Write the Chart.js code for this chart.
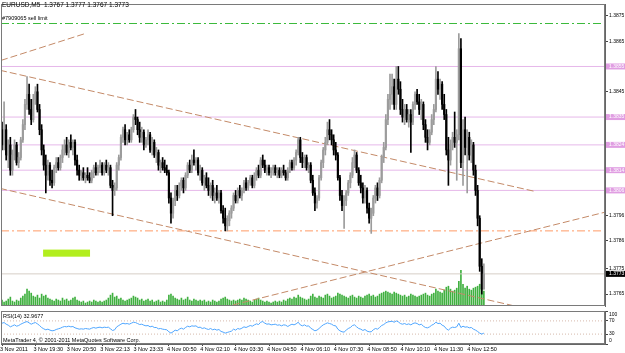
<!DOCTYPE html>
<html>
<head>
<meta charset="utf-8">
<script src="https://cdn.jsdelivr.net/npm/chart.js@4.4.0/dist/chart.umd.min.js"></script>
<style>
html, body { margin: 0; padding: 0; background: #fff; }
#wrap { position: relative; width: 625px; height: 353px; overflow: hidden; background: #fff; }
#mainChart { position: absolute; left: 0; top: 0; }
#rsiChart { position: absolute; left: 0; top: 310px; }
</style>
</head>
<body>
<div id="wrap">
  <canvas id="mainChart" width="625" height="310"></canvas>
  <canvas id="rsiChart" width="625" height="43"></canvas>
</div>
<script>
// EURUSD M5, una vela por barra (232 barras)
const opens = [
1.3830,1.3824,1.3830,1.3820,1.3824,1.3814,1.3820,1.3824,1.3817,1.3819,1.3826,1.3832,1.3840,1.3844,1.3838,1.3834,
1.3842,1.3845,1.3838,1.3830,1.3822,1.3816,1.3812,1.3816,1.3810,1.3809,1.3815,1.3817,1.3815,1.3819,1.3822,1.3824,
1.3821,1.3825,1.3823,1.3825,1.3818,1.3814,1.3812,1.3813,1.3811,1.3812,1.3811,1.3810,1.3813,1.3815,1.3813,1.3815,
1.3816,1.3813,1.3816,1.3814,1.3815,1.3808,1.3806,1.3807,1.3816,1.3819,1.3827,1.3830,1.3826,1.3828,1.3826,1.3830,
1.3835,1.3834,1.3830,1.3827,1.3829,1.3824,1.3826,1.3828,1.3822,1.3825,1.3820,1.3821,1.3816,1.3817,1.3815,1.3814,
1.3813,1.3803,1.3797,1.3802,1.3806,1.3804,1.3808,1.3810,1.3807,1.3812,1.3816,1.3814,1.3818,1.3817,1.3818,1.3813,
1.3814,1.3809,1.3811,1.3808,1.3806,1.3808,1.3804,1.3805,1.3803,1.3805,1.3798,1.3795,1.3792,1.3794,1.3797,1.3799,
1.3804,1.3802,1.3806,1.3804,1.3806,1.3809,1.3807,1.3809,1.3811,1.3808,1.3812,1.3814,1.3812,1.3818,1.3816,1.3814,
1.3815,1.3813,1.3814,1.3815,1.3813,1.3814,1.3812,1.3814,1.3813,1.3811,1.3814,1.3817,1.3815,1.3818,1.3821,1.3826,
1.3819,1.3817,1.3819,1.3815,1.3816,1.3810,1.3805,1.3801,1.3803,1.3811,1.3817,1.3822,1.3825,1.3830,1.3828,1.3826,
1.3822,1.3820,1.3811,1.3804,1.3800,1.3802,1.3805,1.3809,1.3812,1.3817,1.3820,1.3814,1.3809,1.3807,1.3803,1.3806,
1.3799,1.3795,1.3797,1.3803,1.3807,1.3804,1.3810,1.3819,1.3823,1.3834,1.3842,1.3844,1.3847,1.3840,1.3850,1.3846,
1.3838,1.3835,1.3838,1.3834,1.3836,1.3833,1.3840,1.3844,1.3841,1.3838,1.3840,1.3832,1.3827,1.3825,1.3829,1.3834,
1.3838,1.3850,1.3846,1.3848,1.3840,1.3836,1.3822,1.3818,1.3824,1.3827,1.3825,1.3828,1.3862,1.3817,1.3830,1.3823,
1.3827,1.3820,1.3824,1.3814,1.3806,1.3795,1.3776,1.3767
];
const highs = [
1.3833,1.3841,1.3832,1.3826,1.3827,1.3822,1.3826,1.3825,1.3821,1.3827,1.3834,1.3842,1.3851,1.3848,1.3842,1.3844,
1.3847,1.3848,1.3840,1.3832,1.3824,1.3820,1.3818,1.3817,1.3814,1.3816,1.3819,1.3819,1.3820,1.3824,1.3826,1.3827,
1.3826,1.3828,1.3826,1.3826,1.3820,1.3816,1.3814,1.3815,1.3813,1.3815,1.3813,1.3814,1.3816,1.3817,1.3816,1.3818,
1.3817,1.3817,1.3818,1.3817,1.3816,1.3810,1.3809,1.3817,1.3820,1.3828,1.3831,1.3832,1.3829,1.3830,1.3831,1.3836,
1.3838,1.3835,1.3833,1.3831,1.3830,1.3827,1.3830,1.3829,1.3827,1.3826,1.3823,1.3822,1.3818,1.3819,1.3818,1.3816,
1.3814,1.3805,1.3803,1.3808,1.3808,1.3809,1.3811,1.3811,1.3813,1.3817,1.3818,1.3820,1.3822,1.3819,1.3819,1.3816,
1.3815,1.3812,1.3813,1.3811,1.3809,1.3810,1.3807,1.3808,1.3806,1.3806,1.3800,1.3799,1.3796,1.3798,1.3800,1.3805,
1.3806,1.3807,1.3808,1.3807,1.3810,1.3811,1.3810,1.3812,1.3812,1.3813,1.3815,1.3816,1.3819,1.3820,1.3818,1.3816,
1.3816,1.3815,1.3816,1.3816,1.3815,1.3815,1.3815,1.3816,1.3814,1.3815,1.3818,1.3818,1.3819,1.3822,1.3827,1.3827,
1.3821,1.3820,1.3820,1.3817,1.3817,1.3812,1.3807,1.3804,1.3812,1.3818,1.3823,1.3827,1.3833,1.3834,1.3830,1.3828,
1.3825,1.3821,1.3812,1.3806,1.3804,1.3806,1.3810,1.3813,1.3819,1.3822,1.3821,1.3815,1.3812,1.3809,1.3808,1.3807,
1.3801,1.3799,1.3804,1.3808,1.3809,1.3811,1.3820,1.3825,1.3836,1.3844,1.3852,1.3852,1.3850,1.3855,1.3855,1.3849,
1.3842,1.3840,1.3840,1.3838,1.3838,1.3841,1.3845,1.3846,1.3844,1.3842,1.3841,1.3834,1.3830,1.3830,1.3836,1.3840,
1.3855,1.3853,1.3850,1.3849,1.3844,1.3838,1.3827,1.3826,1.3829,1.3837,1.3830,1.3868,1.3866,1.3834,1.3835,1.3830,
1.3829,1.3826,1.3825,1.3816,1.3808,1.3796,1.3779,1.3777
];
const lows = [
1.3822,1.3822,1.3818,1.3815,1.3812,1.3812,1.3818,1.3816,1.3815,1.3818,1.3825,1.3830,1.3838,1.3836,1.3832,1.3833,
1.3840,1.3837,1.3828,1.3820,1.3814,1.3805,1.3810,1.3808,1.3807,1.3808,1.3813,1.3814,1.3814,1.3817,1.3820,1.3820,
1.3819,1.3822,1.3820,1.3816,1.3812,1.3810,1.3810,1.3810,1.3809,1.3810,1.3809,1.3809,1.3811,1.3812,1.3812,1.3813,
1.3812,1.3812,1.3813,1.3812,1.3807,1.3796,1.3804,1.3806,1.3814,1.3818,1.3825,1.3824,1.3824,1.3825,1.3825,1.3829,
1.3832,1.3828,1.3825,1.3825,1.3822,1.3823,1.3824,1.3821,1.3820,1.3819,1.3817,1.3814,1.3813,1.3814,1.3813,1.3812,
1.3801,1.3793,1.3795,1.3800,1.3802,1.3803,1.3806,1.3805,1.3806,1.3811,1.3813,1.3813,1.3816,1.3814,1.3812,1.3810,
1.3808,1.3806,1.3807,1.3804,1.3803,1.3802,1.3801,1.3802,1.3801,1.3797,1.3793,1.3790,1.3790,1.3792,1.3795,1.3798,
1.3801,1.3801,1.3803,1.3802,1.3805,1.3806,1.3806,1.3808,1.3807,1.3807,1.3810,1.3811,1.3811,1.3815,1.3813,1.3812,
1.3812,1.3811,1.3812,1.3812,1.3811,1.3811,1.3811,1.3812,1.3810,1.3810,1.3813,1.3814,1.3814,1.3816,1.3820,1.3817,
1.3815,1.3815,1.3814,1.3813,1.3809,1.3804,1.3798,1.3799,1.3802,1.3810,1.3815,1.3820,1.3824,1.3826,1.3824,1.3820,
1.3818,1.3810,1.3802,1.3798,1.3791,1.3800,1.3804,1.3807,1.3811,1.3815,1.3813,1.3808,1.3805,1.3801,1.3801,1.3797,
1.3793,1.3789,1.3796,1.3801,1.3802,1.3803,1.3809,1.3817,1.3822,1.3832,1.3838,1.3840,1.3838,1.3838,1.3844,1.3836,
1.3833,1.3832,1.3833,1.3831,1.3821,1.3832,1.3838,1.3840,1.3836,1.3834,1.3830,1.3825,1.3822,1.3824,1.3828,1.3832,
1.3837,1.3844,1.3842,1.3838,1.3834,1.3820,1.3808,1.3816,1.3822,1.3823,1.3810,1.3826,1.3815,1.3808,1.3820,1.3805,
1.3818,1.3817,1.3812,1.3804,1.3792,1.3774,1.3765,1.3767
];
const closes = [
1.3824,1.3830,1.3820,1.3824,1.3814,1.3820,1.3824,1.3817,1.3819,1.3826,1.3832,1.3840,1.3844,1.3838,1.3834,1.3842,
1.3845,1.3838,1.3830,1.3822,1.3816,1.3812,1.3816,1.3810,1.3809,1.3815,1.3817,1.3815,1.3819,1.3822,1.3824,1.3821,
1.3825,1.3823,1.3825,1.3818,1.3814,1.3812,1.3813,1.3811,1.3812,1.3811,1.3810,1.3813,1.3815,1.3813,1.3815,1.3816,
1.3813,1.3816,1.3814,1.3815,1.3808,1.3806,1.3807,1.3816,1.3819,1.3827,1.3830,1.3826,1.3828,1.3826,1.3830,1.3835,
1.3834,1.3830,1.3827,1.3829,1.3824,1.3826,1.3828,1.3822,1.3825,1.3820,1.3821,1.3816,1.3817,1.3815,1.3814,1.3813,
1.3803,1.3797,1.3802,1.3806,1.3804,1.3808,1.3810,1.3807,1.3812,1.3816,1.3814,1.3818,1.3817,1.3818,1.3813,1.3814,
1.3809,1.3811,1.3808,1.3806,1.3808,1.3804,1.3805,1.3803,1.3805,1.3798,1.3795,1.3792,1.3794,1.3797,1.3799,1.3804,
1.3802,1.3806,1.3804,1.3806,1.3809,1.3807,1.3809,1.3811,1.3808,1.3812,1.3814,1.3812,1.3818,1.3816,1.3814,1.3815,
1.3813,1.3814,1.3815,1.3813,1.3814,1.3812,1.3814,1.3813,1.3811,1.3814,1.3817,1.3815,1.3818,1.3821,1.3826,1.3819,
1.3817,1.3819,1.3815,1.3816,1.3810,1.3805,1.3801,1.3803,1.3811,1.3817,1.3822,1.3825,1.3830,1.3828,1.3826,1.3822,
1.3820,1.3811,1.3804,1.3800,1.3802,1.3805,1.3809,1.3812,1.3817,1.3820,1.3814,1.3809,1.3807,1.3803,1.3806,1.3799,
1.3795,1.3797,1.3803,1.3807,1.3804,1.3810,1.3819,1.3823,1.3834,1.3842,1.3844,1.3847,1.3840,1.3850,1.3846,1.3838,
1.3835,1.3838,1.3834,1.3836,1.3833,1.3840,1.3844,1.3841,1.3838,1.3840,1.3832,1.3827,1.3825,1.3829,1.3834,1.3838,
1.3850,1.3846,1.3848,1.3840,1.3836,1.3822,1.3818,1.3824,1.3827,1.3825,1.3828,1.3862,1.3817,1.3830,1.3823,1.3827,
1.3820,1.3824,1.3814,1.3806,1.3795,1.3776,1.3767,1.3773
];
// Volumen (ticks)
const volumes = [
60,40,50,70,90,50,40,60,50,80,100,120,170,150,130,100,
90,110,80,120,100,110,80,70,60,50,70,60,50,80,60,70,
50,60,80,90,60,50,40,50,30,40,50,40,60,50,40,50,
40,50,60,80,110,130,90,100,70,80,60,50,60,70,80,100,
90,80,60,70,50,60,70,50,60,40,50,60,40,50,40,60,
110,120,100,80,70,60,80,60,70,90,60,50,70,60,50,60,
50,60,40,50,40,60,50,40,50,70,80,90,70,60,50,60,
50,60,70,60,80,70,60,50,40,60,70,80,60,50,40,50,
40,30,40,50,40,50,40,60,50,70,80,70,90,80,110,90,
80,70,60,70,100,120,90,80,100,90,80,110,120,100,80,90,
100,130,120,110,100,90,80,100,110,90,80,100,90,80,100,110,
120,100,110,90,100,120,130,140,150,140,130,120,140,130,120,110,
100,110,90,100,120,110,100,90,100,110,120,130,110,100,120,130,
170,150,140,130,160,190,200,170,150,160,180,250,360,220,180,200,
170,160,180,190,200,220,180,150
];
// RSI(14)
const rsi = [
63,65,60,57,52,55,58,54,56,60,63,66,68,64,60,63,
65,61,56,50,46,43,45,42,40,41,44,46,48,51,53,52,
54,52,53,49,47,45,46,45,47,46,45,48,50,48,50,51,
49,51,50,51,46,41,43,52,56,60,63,61,62,60,63,66,
65,62,59,60,57,55,56,52,54,50,50,46,47,45,44,43,
37,33,37,42,40,45,48,45,50,54,52,55,54,55,50,51,
47,49,46,44,47,43,45,42,44,38,36,33,35,37,39,45,
42,47,45,48,52,50,53,56,54,58,61,59,66,68,63,60,
61,58,59,60,57,58,55,58,57,53,57,60,58,61,66,58,
55,58,54,55,48,44,40,42,47,53,58,61,64,62,60,56,
55,45,40,37,36,42,47,50,56,58,52,47,45,41,44,39,
37,37,43,47,45,50,56,59,64,67,68,69,66,70,67,62,
60,62,59,61,58,62,64,62,58,60,54,50,49,52,57,60,
66,62,63,57,54,46,42,48,51,50,52,63,50,54,51,52,
49,50,45,42,38,33,30,33
];

// Niveles y objetos
const axisTicks = [1.3875, 1.3865, 1.3855, 1.3845, 1.3835, 1.3824, 1.3814, 1.3806, 1.3796, 1.3786, 1.3775, 1.3773, 1.3765];
const pinkLevels = [1.3855, 1.3835, 1.3824, 1.3814, 1.3806];
const sellLimit = 1.3872;
const orangeLevel = 1.3790;
const bidPrice = 1.3773;
const upperTrend = [[-0.96, 1.38535], [255.5, 1.38056]];
const lowerTrend = [[-0.96, 1.38068], [247.4, 1.37600]];
const riseTrend = [[110.7, 1.37607], [289.1, 1.37974]];
const shortTrend = [[-0.48, 1.38574], [39.8, 1.38680]];
const boxBars = [19.7, 42.2];
const boxPrices = [1.37798, 1.37826];
const rsiLevels = [70, 30];
const rsiTicks = [100, 70, 30, 0];
const tickBars = [0, 16, 32, 48, 64, 80, 96, 112, 128, 144, 160, 176, 192, 208, 224];
const timeLabels = ['3 Nov 2011', '3 Nov 19:30', '3 Nov 20:50', '3 Nov 22:13', '3 Nov 23:33', '4 Nov 00:50',
  '4 Nov 02:10', '4 Nov 03:30', '4 Nov 04:50', '4 Nov 06:10', '4 Nov 07:30', '4 Nov 08:50', '4 Nov 10:10',
  '4 Nov 11:30', '4 Nov 12:50'];

const FONT = '"Liberation Sans", Arial, sans-serif';
const X_MIN = -0.48, X_MAX = 289.07;
const PRICE_MIN = 1.37603, PRICE_MAX = 1.38797;

const isPink = v => pinkLevels.some(p => Math.abs(p - v) < 1e-7);
const isBid = v => Math.abs(v - bidPrice) < 1e-7;
const candleColor = ctx => closes[ctx.dataIndex] >= opens[ctx.dataIndex] ? '#9c9c9c' : '#000000';

function hLine(price, color, dash, order) {
    return {
        type: 'line', data: [{ x: X_MIN, y: price }, { x: X_MAX, y: price }],
        borderColor: color, backgroundColor: color, borderWidth: 1, borderDash: dash, pointRadius: 0, order: order
    };
}
function segment(pts, color, dash, order) {
    return {
        type: 'line', data: pts.map(p => ({ x: p[0], y: p[1] })),
        borderColor: color, backgroundColor: color, borderWidth: 1, borderDash: dash, pointRadius: 0, order: order
    };
}

// Marco del panel
const framePlugin = {
    id: 'frame',
    afterDraw(chart) {
        const a = chart.chartArea, c = chart.ctx;
        c.save();
        c.strokeStyle = '#7a7a7a';
        c.lineWidth = 1;
        c.strokeRect(a.left + 0.5, a.top + 0.5, a.right - a.left - 1, a.bottom - a.top - 1);
        c.restore();
    }
};

const mainTextPlugin = {
    id: 'mainText',
    beforeDatasetsDraw(chart) {
        const c = chart.ctx, x = chart.scales.x, y = chart.scales.y, a = chart.chartArea;
        const x0 = x.getPixelForValue(boxBars[0]), x1 = x.getPixelForValue(boxBars[1]);
        const y0 = y.getPixelForValue(boxPrices[1]), y1 = y.getPixelForValue(boxPrices[0]);
        c.save();
        c.fillStyle = '#b2ee1e';
        c.fillRect(x0, y0, x1 - x0, y1 - y0);
        // linea de la orden pendiente (sell limit)
        const ys = Math.round(y.getPixelForValue(sellLimit)) + 0.5;
        c.strokeStyle = '#3cba3c';
        c.lineWidth = 1;
        c.setLineDash([8, 3, 2, 3]);
        c.beginPath();
        c.moveTo(a.left, ys);
        c.lineTo(a.right, ys);
        c.stroke();
        c.restore();
    },
    afterDraw(chart) {
        const c = chart.ctx, y = chart.scales.y;
        c.save();
        c.fillStyle = '#000';
        c.textBaseline = 'middle';
        c.font = '6.5px ' + FONT;
        c.fillText('EURUSD,M5  1.3767 1.3777 1.3767 1.3773', 2, 5);
        c.font = '5.5px ' + FONT;
        c.fillText('#7909065 sell limit', 2, y.getPixelForValue(sellLimit) - 4.5);
        c.restore();
    }
};

const rsiTextPlugin = {
    id: 'rsiText',
    afterDraw(chart) {
        const c = chart.ctx, a = chart.chartArea, y = chart.scales.y;
        c.save();
        c.fillStyle = '#000';
        c.textBaseline = 'middle';
        c.font = '5.5px ' + FONT;
        c.fillText('RSI(14) 32.9677', 3, 6);
        c.fillText('MetaTrader 4, \u00a9 2001-2011 MetaQuotes Software Corp.', 3, 30.5);
        c.font = '5px ' + FONT;
        rsiTicks.forEach(v => {
            const py = Math.min(Math.max(y.getPixelForValue(v), a.top + 3.7), a.bottom - 3.7);
            c.fillText(String(v), a.right + 4, py);
        });
        c.restore();
    }
};

// Gráfica principal
new Chart(document.getElementById('mainChart'), {
    type: 'bar',
    data: {
        datasets: [
            { type: 'bar', data: opens.map((o, i) => ({ x: i, y: [o, closes[i]] })), backgroundColor: candleColor,
              barThickness: 1.5, minBarLength: 1, grouped: false, order: 0 },
            { type: 'bar', data: lows.map((l, i) => ({ x: i, y: [l, highs[i]] })), backgroundColor: candleColor,
              barThickness: 1, grouped: false, order: 1 },
            ...pinkLevels.map(p => hLine(p, '#e6b8ea', [], 3)),
            hLine(orangeLevel, '#ff9a66', [8, 3, 2, 3], 3),
            hLine(bidPrice, '#d6cec6', [], 3),
            segment(upperTrend, '#c48a68', [7, 3], 2),
            segment(lowerTrend, '#c48a68', [7, 3], 2),
            segment(riseTrend, '#c48a68', [7, 3], 2),
            segment(shortTrend, '#c48a68', [7, 3], 2),
            { type: 'bar', data: volumes.map((v, i) => ({ x: i, y: v })), yAxisID: 'vol', backgroundColor: '#40b040',
              barThickness: 1, grouped: false, order: 10 }
        ]
    },
    options: {
        responsive: false,
        animation: false,
        layout: { padding: { left: 1, top: 2, bottom: 2, right: 0 } },
        plugins: { legend: { display: false }, tooltip: { enabled: false } },
        scales: {
            x: { type: 'linear', min: X_MIN, max: X_MAX, display: false, offset: false },
            y: {
                position: 'right', min: PRICE_MIN, max: PRICE_MAX,
                afterFit: s => { s.width = 20; },
                afterBuildTicks: s => { s.ticks = axisTicks.map(v => ({ value: v })); },
                grid: { drawOnChartArea: false, tickLength: 3, tickColor: '#444' },
                border: { color: '#666' },
                ticks: {
                    autoSkip: false, padding: 1,
                    font: { family: FONT, size: 5 },
                    color: ctx => (isPink(ctx.tick.value) || isBid(ctx.tick.value)) ? '#fff' : '#000',
                    showLabelBackdrop: ctx => isPink(ctx.tick.value) || isBid(ctx.tick.value),
                    backdropColor: ctx => isBid(ctx.tick.value) ? '#000' : '#e09ee2',
                    backdropPadding: { left: 3, right: 4, top: 0, bottom: 0 },
                    callback: v => v.toFixed(4)
                }
            },
            vol: { axis: 'y', type: 'linear', display: false, min: 0, max: 3050 }
        }
    },
    plugins: [framePlugin, mainTextPlugin]
});

// Panel RSI
new Chart(document.getElementById('rsiChart'), {
    type: 'line',
    data: {
        datasets: [
            { data: rsi.map((v, i) => ({ x: i, y: v })), borderColor: '#4fa6ff', borderWidth: 1, pointRadius: 0, tension: 0, order: 0 },
            ...rsiLevels.map(l => ({ data: [{ x: X_MIN, y: l }, { x: X_MAX, y: l }], borderColor: '#d6b9ab',
              borderWidth: 1, borderDash: [1, 2], pointRadius: 0, order: 1 }))
        ]
    },
    options: {
        responsive: false,
        animation: false,
        layout: { padding: { left: 1, top: 1, right: 0, bottom: 0 } },
        plugins: { legend: { display: false }, tooltip: { enabled: false } },
        scales: {
            x: {
                type: 'linear', min: X_MIN, max: X_MAX, offset: false,
                afterFit: s => { s.height = 9; },
                afterBuildTicks: s => { s.ticks = tickBars.map(v => ({ value: v })); },
                grid: { drawOnChartArea: false, tickLength: 2, tickColor: '#444' },
                border: { color: '#666' },
                ticks: {
                    autoSkip: false, maxRotation: 0, minRotation: 0, align: 'start', padding: 0, labelOffset: -2,
                    font: { family: FONT, size: 5.5 }, color: '#000',
                    callback: v => timeLabels[tickBars.indexOf(v)]
                }
            },
            y: {
                position: 'right', min: 0, max: 100,
                afterFit: s => { s.width = 20; },
                afterBuildTicks: s => { s.ticks = rsiTicks.map(v => ({ value: v })); },
                grid: { drawOnChartArea: false, tickLength: 3, tickColor: '#444' },
                border: { color: '#666' },
                ticks: { display: false }
            }
        }
    },
    plugins: [framePlugin, rsiTextPlugin]
});
</script>
</body>
</html>
